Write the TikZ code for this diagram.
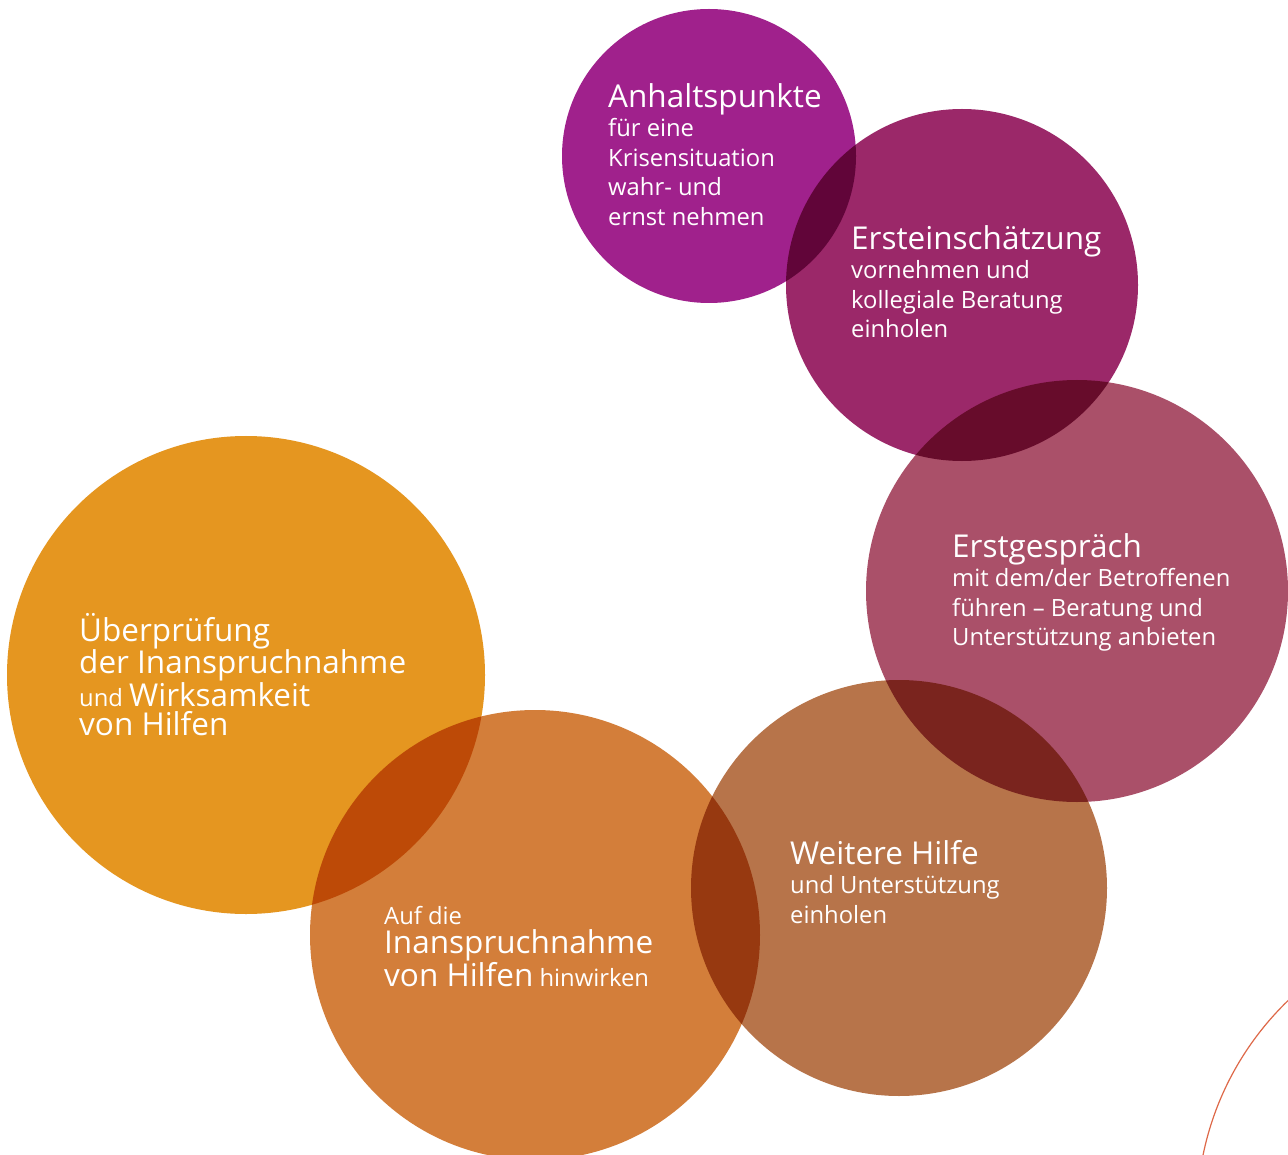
\documentclass[tikz,border=0pt]{standalone}
\usepackage{fontspec}
\setmainfont{Open Sans}
\usepackage{tikz}

\definecolor{anhaltfarbe}{RGB}{160,33,140}
\definecolor{einschfarbe}{RGB}{155,40,105}
\definecolor{gespraechfarbe}{RGB}{170,80,105}
\definecolor{hilfefarbe}{RGB}{183,116,74}
\definecolor{hinwirkfarbe}{RGB}{211,126,58}
\definecolor{pruefffarbe}{RGB}{229,150,32}
\definecolor{bogenfarbe}{RGB}{222,104,72}

\newcommand{\gross}{\fontsize{31.5}{29.5}\selectfont}
\newcommand{\klein}{\fontsize{23.8}{29.5}\selectfont}
\newcommand{\oben}{\rule{0pt}{30pt}}

\tikzset{
    bubble/.style={circle, inner sep=0pt, minimum size=#1},
    caption/.style={anchor=north west, align=left, text=white, inner sep=0pt, font=\klein},
}

\begin{document}
\begin{tikzpicture}[x=1pt, y=-1pt]
            \useasboundingbox (0, 0) rectangle (1288, 1155);
            \fill[white](0, 0) rectangle (1288, 1155);
            \draw[bogenfarbe, line width=1.2pt](1495, 1215) circle (298);
            \begin{scope}[blend mode=multiply]
                \node[bubble=294, fill=anhaltfarbe] (anhalt) at (709, 156) {};
                \node[bubble=352, fill=einschfarbe] (einsch) at (962, 285) {};
                \node[bubble=422, fill=gespraechfarbe] (gespraech) at (1077, 591) {};
                \node[bubble=416, fill=hilfefarbe] (hilfe) at (899, 888) {};
                \node[bubble=450, fill=hinwirkfarbe] (hinwirk) at (535, 935) {};
                \node[bubble=478, fill=pruefffarbe] (pruef) at (246, 675) {};
            \end{scope}
            % first baseline = top + 30
            \node[caption] (anhalt-text) at (608, 77) {\oben{\gross Anhaltspunkte}\\für eine\\Krisensituation\\wahr- und\\ernst nehmen};
            \node[caption] (einsch-text) at (851, 219) {\oben{\gross Ersteinschätzung}\\vornehmen und\\kollegiale Beratung\\einholen};
            \node[caption] (gespraech-text) at (952, 527) {\oben{\gross Erstgespräch}\\mit dem/der Betroffenen\\führen – Beratung und\\Unterstützung anbieten};
            \node[caption] (hilfe-text) at (790, 834) {\oben{\gross Weitere Hilfe}\\und Unterstützung\\einholen};
            \node[caption] (hinwirk-text) at (384, 894) {\oben Auf die\\{\gross Inanspruchnahme}\\{\gross von Hilfen} hinwirken};
            \node[caption] (pruef-text) at (79, 611) {\oben{\gross Überprüfung}\\{\gross der Inanspruchnahme}\\und {\gross Wirksamkeit}\\{\gross von Hilfen}};
        \end{tikzpicture}
\end{document}
